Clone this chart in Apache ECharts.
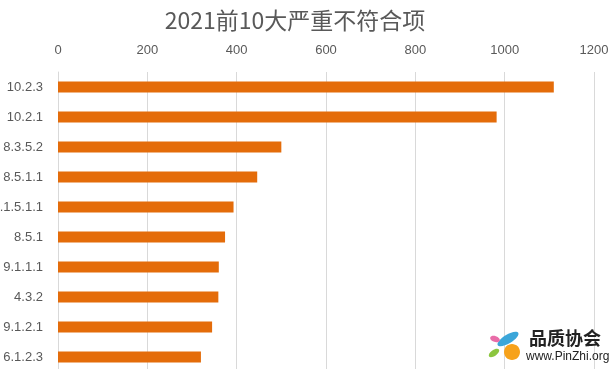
<!DOCTYPE html>
<html><head><meta charset="utf-8">
<script src="https://cdn.jsdelivr.net/npm/echarts@6/dist/echarts.min.js"></script>
<style>html,body{margin:0;padding:0;background:#fff}#c{width:613px;height:369px}</style>
</head><body><div id="c"></div>
<script>
const titleText = '2021前10大严重不符合项';
const categories = ['10.2.3','10.2.1','8.3.5.2','8.5.1.1','7.1.5.1.1','8.5.1','9.1.1.1','4.3.2','9.1.2.1','6.1.2.3'];
const values = [1110, 982, 500, 446, 393, 374, 360, 359, 345, 320];
const xTicks = [0, 200, 400, 600, 800, 1000, 1200];

const chart = echarts.init(document.getElementById('c'));
chart.setOption({
  animation: false,
  backgroundColor: '#fff',
  title: {
    text: titleText, left: 290, top: 4, textAlign: 'center',
    textStyle: { fontFamily: 'Noto Sans CJK SC', fontSize: 23, fontWeight: 'normal', color: '#595959' }
  },
  grid: { left: 58, right: 19, top: 72, bottom: -3, containLabel: false, outerBoundsMode: 'none' },
  xAxis: {
    type: 'value', position: 'top', min: xTicks[0], max: xTicks[xTicks.length-1], interval: 200,
    axisLine: { show: false }, axisTick: { show: false },
    axisLabel: { color: '#595959', fontFamily: 'Liberation Sans', fontSize: 13, margin: 15,
      formatter: v => String(v) },
    splitLine: { lineStyle: { color: '#d9d9d9', width: 1 } }
  },
  yAxis: {
    type: 'category', data: categories, inverse: true,
    axisLine: { show: true, lineStyle: { color: '#d9d9d9' } }, axisTick: { show: false },
    axisLabel: { color: '#595959', fontFamily: 'Liberation Sans', fontSize: 13, margin: 15 }
  },
  series: [{
    type: 'bar', data: values, barWidth: 11,
    itemStyle: { color: '#E46C0A' }
  }],
  graphic: [
    { type: 'ellipse', shape: { cx: 508, cy: 339, rx: 12, ry: 4.5 }, rotation: 0.55, originX: 508, originY: 339, style: { fill: '#3BA6D9' }, z: 100 },
    { type: 'ellipse', shape: { cx: 495, cy: 339, rx: 5, ry: 3 }, rotation: -0.3, originX: 495, originY: 339, style: { fill: '#E96CA8' }, z: 100 },
    { type: 'ellipse', shape: { cx: 494, cy: 353, rx: 6, ry: 3 }, rotation: 0.6, originX: 494, originY: 353, style: { fill: '#8CC63F' }, z: 100 },
    { type: 'ellipse', shape: { cx: 512, cy: 352, rx: 8, ry: 8 }, style: { fill: '#F7A21B' }, z: 101 },
    { type: 'text', left: 529, top: 329, style: { text: '品质协会', font: 'bold 18px "Noto Sans CJK SC"', fill: '#222' }, z: 100 },
    { type: 'text', left: 526, top: 351, style: { text: 'www.PinZhi.org', font: '12px "Liberation Sans"', fill: '#222' }, z: 100 }
  ]
});
</script></body></html>
